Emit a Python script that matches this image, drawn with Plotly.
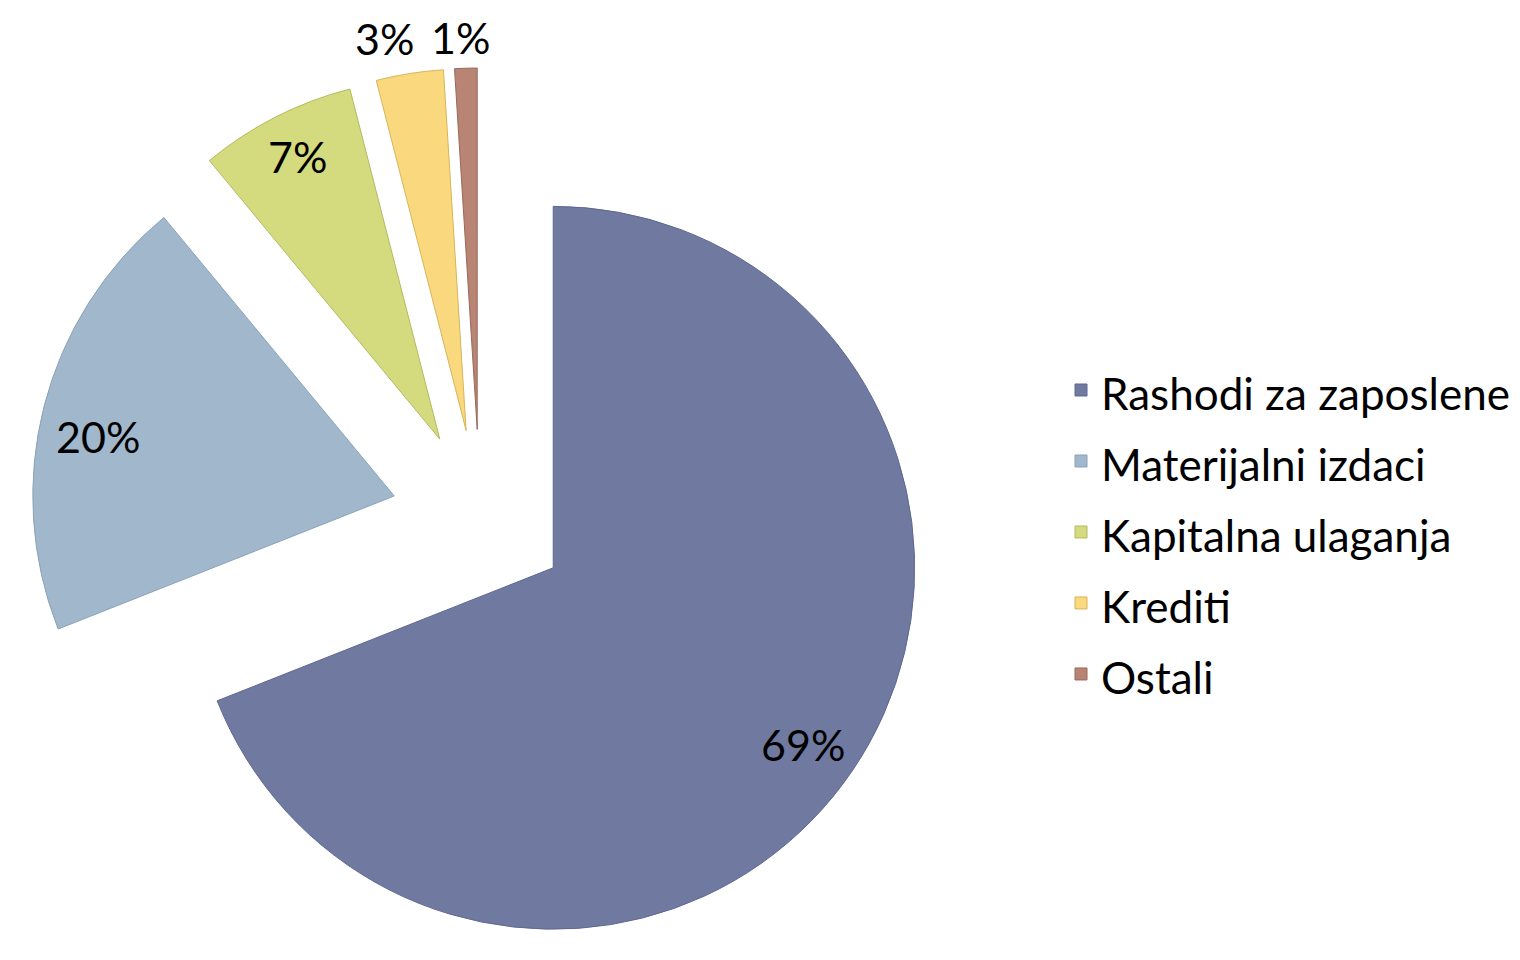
import math
import plotly.graph_objects as go

# ---- data ----
labels = ["Rashodi za zaposlene", "Materijalni izdaci", "Kapitalna ulaganja", "Krediti", "Ostali"]
values = [69, 20, 7, 3, 1]
pct_text = ["69%", "20%", "7%", "3%", "1%"]

# ---- style ----
colors = ["#707AA0", "#A0B7CC", "#D4DA7E", "#FAD97E", "#B88474"]
edge_colors = ["#5E6890", "#8AA2BA", "#B4BA62", "#D8B45C", "#99685A"]
pull = 0.245
FONT = "Lato"
TXT = 43            # visible text size
LEG_SPACING = 52.3  # legend font size used only to get the item spacing
# label placement along each slice's bisector: distance (fraction of r, from the pulled apex)
label_radius = [0.85, 0.835, 0.87, 1.102, 1.078]
label_turn = [1.5, -3.5, 0.0, -2.8, -0.7]   # small angular nudge (deg)

W, H = 1520, 960
R_tot = 450           # radius incl. pull, px
cx = 472              # pie centre x, px
cy = H - R_tot        # pie centre y, px (domain sits on the bottom edge)
r = R_tot / (1 + pull)

fig = go.Figure(go.Pie(
    labels=[f'<span style="font-size:{TXT + 1}px">{l}</span>' for l in labels],
    values=values,
    textinfo="none",
    sort=False,
    direction="clockwise",
    rotation=0,
    pull=[pull] * len(values),
    marker=dict(colors=colors, line=dict(color=edge_colors, width=1)),
    hoverinfo="skip",
    domain=dict(x=[(cx - R_tot) / W, (cx + R_tot) / W], y=[0, 2 * R_tot / H]),
))

# percentage labels placed along each slice's bisector
total = sum(values)
cum = 0.0
for v, t, frac, turn in zip(values, pct_text, label_radius, label_turn):
    mid = math.radians((cum + v / 2) / total * 360.0)   # clockwise from 12 o'clock
    cum += v
    ax = cx + pull * r * math.sin(mid)                   # pulled apex of the slice
    ay = cy - pull * r * math.cos(mid)
    ang = mid + math.radians(turn)
    px = ax + frac * r * math.sin(ang)
    py = ay - frac * r * math.cos(ang) - 3
    fig.add_annotation(
        text=t, x=px / W, y=1 - py / H, xref="paper", yref="paper",
        xanchor="center", yanchor="middle", valign="middle", height=40,
        showarrow=False,
        font=dict(family=FONT, size=TXT, color="black"),
    )

fig.update_layout(
    width=W, height=H,
    margin=dict(l=0, r=0, t=0, b=0, autoexpand=False),
    paper_bgcolor="white",
    plot_bgcolor="white",
    showlegend=True,
    legend=dict(
        x=1053 / W, xanchor="left",
        y=1 - 524 / H, yanchor="middle",
        font=dict(family=FONT, size=LEG_SPACING, color="black"),
        bgcolor="rgba(0,0,0,0)",
    ),
)

fig.write_html("out.html")
